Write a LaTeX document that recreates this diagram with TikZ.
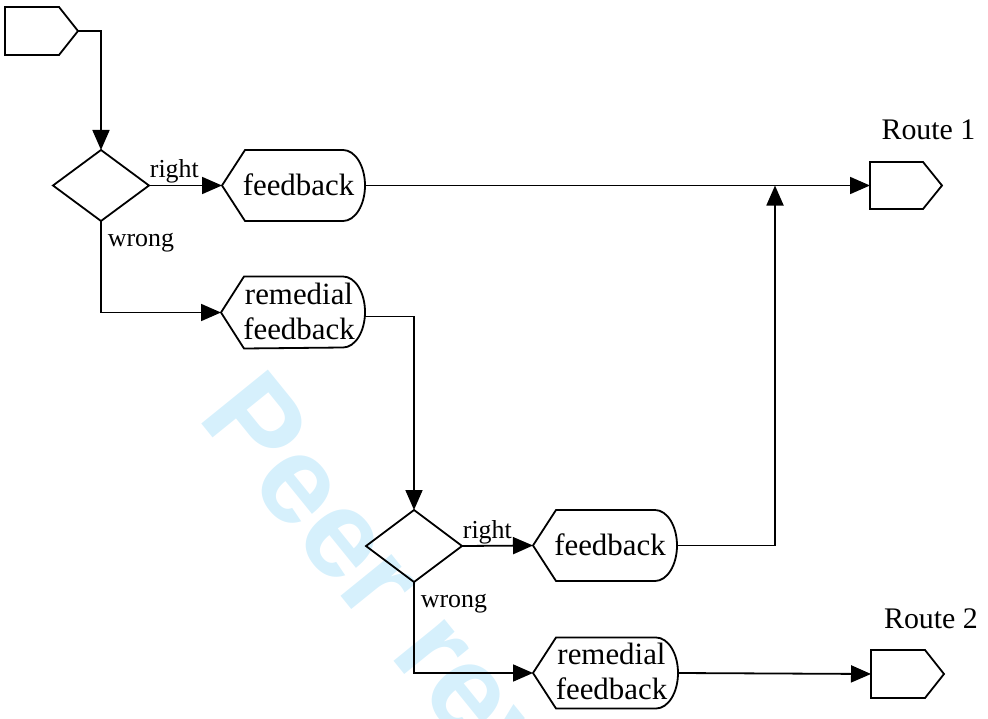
\documentclass[tikz,border=0pt]{standalone}
\usepackage{fontspec}
\setmainfont{Liberation Serif}
\newfontfamily\wmfont{Liberation Sans}
\usetikzlibrary{arrows.meta,calc}
\definecolor{wmblue}{RGB}{214,240,252}
\begin{document}
\begin{tikzpicture}[x=1bp,y=-1bp,
  line width=1.8bp,
  box/.style={rectangle,draw=none,inner sep=0pt,outer sep=0pt,minimum width=#1,minimum height=71bp},
  big/.style={font=\fontsize{31}{35}\selectfont,align=center},
  lab/.style={font=\fontsize{26}{30}\selectfont,inner sep=0pt},
  arr/.style={-{Triangle[length=20bp,width=17bp]}}]
\useasboundingbox (0,0) rectangle (988,719);
\begin{scope}
\clip (0,0) rectangle (988,719);
\node[anchor=base west,rotate=-51,text=wmblue,inner sep=0pt,font=\wmfont\bfseries\fontsize{125}{125}\selectfont] (wm) at (196,417) {Peer review};
\end{scope}
% nodes
\node[box=73bp,minimum height=48bp] (start) at (41.5,31) {};
\node[box=96bp] (d1) at (101,185.5) {};
\node[box=143bp,big] (f1) at (293.5,185.5) {};
\node[box=144bp,minimum height=72bp] (r1) at (293,312.5) {};
\node[box=72bp,minimum height=47bp] (route1) at (906,185.5) {};
\node[box=96bp,minimum height=72bp] (d2) at (414,546) {};
\node[box=144bp] (f2) at (605,545.5) {};
\node[box=145bp] (r2) at (605.5,673) {};
\node[box=73bp,minimum height=48bp] (route2) at (907.5,674) {};
\coordinate (j) at (775,185.5);
% texts
\node[big,inner sep=0pt] (t1) at ([xshift=5bp,yshift=1bp]f1.center) {feedback};
\node[big,inner sep=0pt] (t2) at ([xshift=5bp,yshift=1bp]f2.center) {feedback};
\node[big,inner sep=0pt,font=\fontsize{31}{35}\selectfont] (t3) at ([xshift=6bp,yshift=1.5bp]r1.center) {remedial\\feedback};
\node[big,inner sep=0pt,font=\fontsize{31}{35}\selectfont] (t4) at ([xshift=6bp,yshift=1.5bp]r2.center) {remedial\\feedback};
\node[anchor=base,inner sep=0pt,font=\fontsize{30}{34}\selectfont] (rl1) at (928.5,140) {Route 1};
\node[anchor=base,inner sep=0pt,font=\fontsize{30}{34}\selectfont] (rl2) at (931,628) {Route 2};
% outlines
\foreach \n in {start,route1,route2}
  \draw (\n.north west) -- ([xshift=-19bp]\n.north east) -- (\n.east) -- ([xshift=-19bp]\n.south east) -- (\n.south west) -- cycle;
\foreach \n in {d1,d2}
  \draw (\n.north) -- (\n.east) -- (\n.south) -- (\n.west) -- cycle;
\foreach \n in {f1,f2,r1,r2}
  \draw (\n.west) -- ([xshift=23bp]\n.north west) -- ([xshift=-22bp]\n.north east)
    arc[start angle=90,end angle=-90,x radius=22bp,y radius=35.5bp]
    -- ([xshift=23bp]\n.south west) -- cycle;
% connectors
\draw[arr] (start.east) -| (d1.north);
\draw[arr] (d1.east) -- (f1.west);
\node[lab,anchor=base west] (lr1) at ([xshift=0bp,yshift=8bp]d1.east) {right};
\draw[arr] (d1.south) |- (r1.west);
\node[lab,anchor=base west] (lw1) at ([xshift=6bp,yshift=-25bp]d1.south) {wrong};
\draw[arr] (f1.east) -- (route1.west);
\draw[arr] ([yshift=-4bp]r1.east) -| (d2.north);
\draw[arr] (d2.east) -- (f2.west);
\node[lab,anchor=base west] (lr2) at ([xshift=0bp,yshift=8bp]d2.east) {right};
\draw[arr] (d2.south) |- (r2.west);
\node[lab,anchor=base west] (lw2) at ([xshift=6bp,yshift=-25bp]d2.south) {wrong};
\draw[arr] (f2.east) -| (j);
\draw[arr] (r2.east) -- (route2.west);
\end{tikzpicture}
\end{document}
